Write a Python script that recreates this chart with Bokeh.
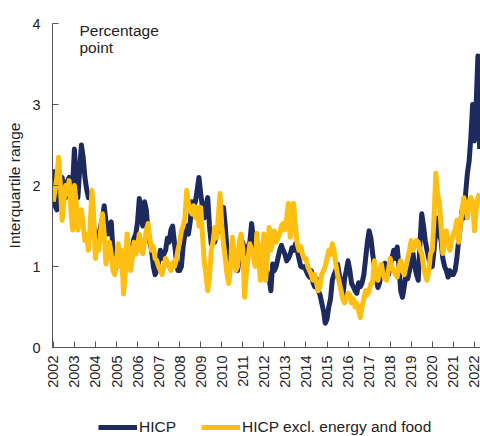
import numpy as np
from bokeh.plotting import figure
from bokeh.layouts import column
from bokeh.models import FixedTicker, Legend, LegendItem, Label, Range1d, ColumnDataSource
from bokeh.embed import file_html
from bokeh.resources import INLINE

start_year = 2002
years = list(range(2002, 2023))
year_labels = [str(y) for y in years]

hicp = [
    2.2, 1.75, 1.7, 1.85, 2.0, 2.1, 1.95, 1.85, 2.05, 2.1, 1.9, 2.0,      # 2002
    2.45, 2.1, 1.85, 2.2, 2.5, 2.35, 2.1, 1.95, 1.85, 1.9, 1.85, 1.5,     # 2003
    1.3, 1.25, 1.4, 1.5, 1.6, 1.75, 1.55, 1.4, 1.5, 1.55, 1.2, 0.95,      # 2004
    1.0, 1.2, 1.05, 1.15, 0.85, 1.1, 1.2, 1.1, 1.0, 1.25, 1.35, 1.4,      # 2005
    1.55, 1.84, 1.6, 1.5, 1.8, 1.7, 1.4, 1.3, 1.2, 1.0, 0.9, 0.95,        # 2006
    1.05, 1.2, 1.1, 1.15, 1.2, 1.35, 1.3, 1.45, 1.5, 1.3, 1.1, 0.95,      # 2007
    0.95, 1.0, 1.25, 1.4, 1.5, 1.4, 1.55, 1.8, 1.75, 1.8, 1.95, 2.1,      # 2008
    1.9, 1.73, 1.6, 1.75, 1.85, 1.5, 1.28, 1.35, 1.3, 1.4, 1.45, 1.5,     # 2009
    1.6, 1.73, 1.5, 1.2, 1.07, 1.15, 1.2, 1.1, 1.0, 0.95, 1.1, 1.25,      # 2010
    1.3, 1.15, 1.2, 1.25, 1.3, 1.53, 1.35, 1.1, 1.2, 1.25, 1.2, 1.23,     # 2011
    1.15, 1.0, 0.9, 0.85, 0.7, 1.03, 0.95, 1.0, 1.1, 1.2, 1.26, 1.2,      # 2012
    1.15, 1.07, 1.1, 1.15, 1.23, 1.2, 1.28, 1.2, 1.1, 1.0, 0.99, 1.0,     # 2013
    0.95, 0.9, 0.87, 0.95, 0.8, 0.75, 0.85, 0.7, 0.65, 0.55, 0.45, 0.3,   # 2014
    0.35, 0.5, 0.6, 0.83, 0.9, 0.95, 1.03, 0.9, 0.75, 0.62, 0.85, 0.95,   # 2015
    1.07, 0.95, 0.79, 0.75, 0.7, 0.67, 0.8, 0.75, 0.8, 0.9, 1.1, 1.3,     # 2016
    1.44, 1.35, 1.16, 1.0, 0.85, 0.74, 0.8, 0.95, 1.0, 1.04, 0.95, 0.9,   # 2017
    1.0, 1.1, 1.2, 1.1, 1.24, 1.0, 0.7, 0.62, 0.75, 0.9, 0.85, 0.95,      # 2018
    1.1, 1.16, 1.0, 0.9, 0.83, 1.3, 1.65, 1.5, 1.32, 1.2, 1.1, 0.99,      # 2019
    1.0, 1.2, 1.45, 1.6, 1.4, 1.32, 1.1, 1.0, 0.95, 0.87, 0.95, 0.9,      # 2020
    0.9, 0.95, 1.1, 1.32, 1.5, 1.7, 1.6, 1.9, 2.15, 2.3, 2.6, 3.0,        # 2021
    2.55, 3.0, 3.6, 2.45,                                                 # 2022
]

hicp_excl = [
    1.8, 1.95, 2.1, 2.35, 2.0, 1.57, 1.8, 2.0, 1.9, 2.06, 1.7, 1.45,      # 2002
    2.0, 1.8, 1.45, 1.6, 1.7, 1.5, 1.32, 1.4, 1.2, 1.5, 1.94, 1.6,        # 2003
    1.1, 1.3, 1.2, 1.45, 1.65, 1.4, 1.03, 1.2, 1.3, 1.15, 0.95, 0.9,      # 2004
    1.1, 1.28, 1.0, 1.2, 0.66, 0.9, 1.4, 1.2, 0.95, 1.1, 1.3, 1.15,       # 2005
    1.25, 1.4, 1.2, 1.16, 1.3, 1.45, 1.53, 1.35, 1.2, 1.25, 1.1, 1.07,    # 2006
    1.0, 0.95, 0.9, 1.0, 1.1, 1.05, 1.0, 0.95, 1.05, 1.0, 1.07, 1.2,      # 2007
    1.3, 1.44, 1.5, 1.6, 1.94, 1.78, 1.7, 1.65, 1.75, 1.6, 1.73, 1.5,     # 2008
    1.73, 1.4, 1.07, 0.9, 0.7, 0.85, 1.2, 1.3, 1.48, 1.35, 1.6, 1.9,      # 2009
    1.5, 1.28, 1.1, 0.9, 0.79, 1.0, 1.36, 1.2, 0.95, 1.0, 1.3, 1.4,       # 2010
    1.2, 0.62, 0.9, 1.1, 1.28, 1.2, 1.15, 1.0, 1.41, 1.1, 0.83, 1.2,      # 2011
    1.4, 0.83, 1.1, 1.48, 1.2, 1.3, 1.44, 1.3, 1.35, 1.4, 1.5, 1.53,      # 2012
    1.45, 1.6, 1.78, 1.36, 1.5, 1.78, 1.5, 1.28, 1.2, 1.25, 1.15, 1.1,    # 2013
    1.1, 1.0, 0.95, 0.9, 0.83, 0.9, 0.8, 0.7, 0.75, 0.9, 0.95, 1.0,       # 2014
    1.1, 1.2, 1.15, 1.28, 1.2, 1.03, 0.9, 0.8, 0.7, 0.6, 0.55, 0.6,       # 2015
    0.67, 0.65, 0.55, 0.6, 0.5, 0.55, 0.45, 0.37, 0.5, 0.6, 0.7, 0.65,    # 2016
    0.7, 0.79, 0.8, 1.07, 0.9, 0.83, 0.95, 1.03, 0.9, 0.85, 0.83, 0.95,   # 2017
    1.1, 1.0, 0.95, 0.9, 0.87, 1.0, 1.07, 0.95, 0.9, 1.0, 1.1, 1.2,       # 2018
    1.32, 1.2, 1.25, 1.32, 1.3, 1.2, 1.16, 1.0, 0.9, 0.83, 0.95, 1.16,    # 2019
    1.2, 1.6, 2.15, 1.9, 1.8, 1.5, 1.16, 1.3, 1.44, 1.3, 1.2, 1.32,       # 2020
    1.4, 1.45, 1.57, 1.3, 1.5, 1.7, 1.85, 1.75, 1.6, 1.8, 1.85, 1.8,      # 2021
    1.44, 1.7, 1.85, 1.9,                                                 # 2022
]

series_names = ["HICP", "HICP excl. energy and food"]

months = np.arange(len(hicp))
x = start_year + months / 12.0

NAVY = "#1d2a5e"
GOLD = "#ffbf12"
FONT = "Liberation Sans"
TXT = "#222222"

p = figure(width=480, height=410, output_backend="svg", toolbar_location=None,
           x_range=Range1d(2001.96, 2022.29), y_range=Range1d(0, 4),
           min_border_left=52, min_border_right=0, min_border_top=23, min_border_bottom=63)
p.outline_line_color = None
p.xgrid.grid_line_color = None
p.ygrid.grid_line_color = None

src = ColumnDataSource(dict(x=x, hicp=hicp, excl=hicp_excl))
p.line("x", "hicp", source=src, line_color=NAVY, line_width=5, line_join="round")
p.line("x", "excl", source=src, line_color=GOLD, line_width=5, line_join="round")

# x axis
p.xaxis.ticker = FixedTicker(ticks=years)
p.xaxis.major_label_overrides = {y: l for y, l in zip(years, year_labels)}
p.xaxis.major_label_orientation = np.pi / 2
p.xaxis.major_tick_in = 6
p.xaxis.major_tick_out = 0
p.xaxis.minor_tick_line_color = None
p.xaxis.major_label_standoff = 8
p.xaxis.axis_line_color = "#555555"
p.xaxis.major_tick_line_color = "#555555"
p.xaxis.major_label_text_font = FONT
p.xaxis.major_label_text_font_size = "14.5px"
p.xaxis.major_label_text_color = TXT

# y axis
p.yaxis.ticker = FixedTicker(ticks=[0, 1, 2, 3, 4])
p.yaxis.major_tick_in = 6
p.yaxis.major_tick_out = 0
p.yaxis.minor_tick_line_color = None
p.yaxis.major_label_standoff = 12
p.yaxis.axis_line_color = "#555555"
p.yaxis.major_tick_line_color = "#555555"
p.yaxis.major_label_text_font = FONT
p.yaxis.major_label_text_font_size = "14.5px"
p.yaxis.major_label_text_color = TXT
p.yaxis.axis_label = "Interquartile range"
p.yaxis.axis_label_text_font = FONT
p.yaxis.axis_label_text_font_size = "15.5px"
p.yaxis.axis_label_text_font_style = "normal"
p.yaxis.axis_label_text_color = TXT
p.yaxis.axis_label_standoff = 6

p.add_layout(Label(x=27, y=3.91, x_units="screen", text="Percentage",
                   text_font=FONT, text_font_size="15.5px", text_baseline="middle", text_color=TXT))
p.add_layout(Label(x=27, y=3.70, x_units="screen", text="point",
                   text_font=FONT, text_font_size="15.5px", text_baseline="middle", text_color=TXT))

# legend strip below the chart (series lines lie outside its visible range)
lg = figure(width=480, height=26, output_backend="svg", toolbar_location=None,
            x_range=Range1d(0, 1), y_range=Range1d(0, 1),
            x_axis_type=None, y_axis_type=None,
            min_border_left=0, min_border_right=0, min_border_top=0, min_border_bottom=0)
lg.outline_line_color = None
lg.xgrid.grid_line_color = None
lg.ygrid.grid_line_color = None
d1 = lg.line("x", "hicp", source=src, line_color=NAVY, line_width=5)
d2 = lg.line("x", "excl", source=src, line_color=GOLD, line_width=5)
legend = Legend(items=[LegendItem(label=series_names[0], renderers=[d1]),
                       LegendItem(label=series_names[1], renderers=[d2])],
                location=(46, 0), orientation="horizontal",
                glyph_width=39, glyph_height=16, label_standoff=2, spacing=25,
                padding=0, margin=0, border_line_color=None, background_fill_alpha=0,
                label_text_font=FONT, label_text_font_size="15.5px", label_text_color=TXT,
                label_height=16)
lg.add_layout(legend, "center")

layout = column(p, lg, spacing=0)
open("out.html", "w").write(file_html(layout, INLINE))
